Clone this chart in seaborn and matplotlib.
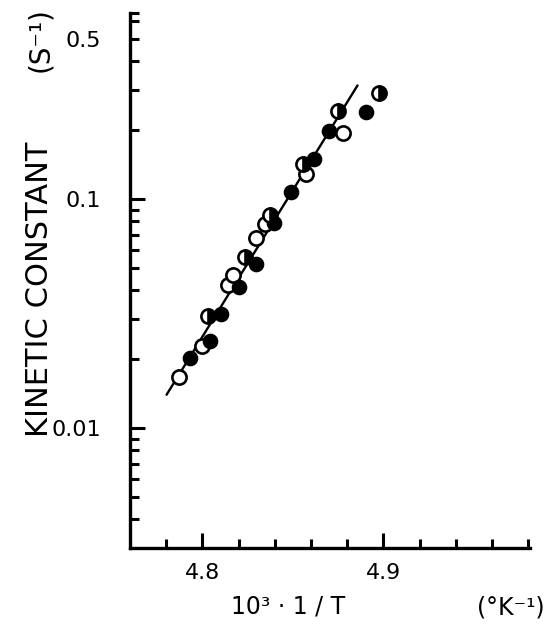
import matplotlib
matplotlib.use("Agg")
import matplotlib.pyplot as plt
import seaborn as sns
import pandas as pd

# ---- data ----
open_x = [4.7871, 4.8000, 4.8141, 4.8169, 4.8298, 4.8347, 4.8573, 4.8778]
open_k = [0.0168, 0.0229, 0.0422, 0.0467, 0.0675, 0.0778, 0.1289, 0.1937]

filled_x = [4.7930, 4.8041, 4.8101, 4.8203, 4.8298, 4.8398, 4.8490, 4.8619, 4.8697, 4.8903]
filled_k = [0.0202, 0.0240, 0.0315, 0.0414, 0.0522, 0.0785, 0.1079, 0.1495, 0.1981, 0.2404]

half_x = [4.8031, 4.8233, 4.8376, 4.8555, 4.8750, 4.8977]
half_k = [0.0309, 0.0559, 0.0854, 0.1419, 0.2417, 0.2901]

fit_x = [4.7802, 4.8857]
fit_k = [0.0140, 0.3138]

x_major = [4.8, 4.9]
x_major_labels = ["4.8", "4.9"]
x_minor = [4.78, 4.82, 4.84, 4.86, 4.88, 4.92, 4.94, 4.96, 4.98]

y_major = [0.01, 0.1]
y_major_labels = ["0.01", "0.1"]
y_minor = [0.004, 0.005, 0.006, 0.007, 0.008, 0.009,
           0.02, 0.03, 0.04, 0.05, 0.06, 0.07, 0.08, 0.09,
           0.2, 0.3, 0.4, 0.5, 0.6, 0.65]
y_minor_labels = ["0.5" if v == 0.5 else "" for v in y_minor]

# ---- figure ----
sns.set_style("ticks")
plt.rcParams["font.family"] = ["DejaVu Sans"]
plt.rcParams["text.color"] = "black"
plt.rcParams["axes.labelcolor"] = "black"
plt.rcParams["xtick.color"] = "black"
plt.rcParams["ytick.color"] = "black"
plt.rcParams["xtick.labelcolor"] = "black"
plt.rcParams["ytick.labelcolor"] = "black"

fig = plt.figure(figsize=(5.58, 6.35), dpi=100)
ax = fig.add_axes([130 / 558, 1 - 548 / 635, 400 / 558, 535 / 635])

df_open = pd.DataFrame({"x": open_x, "k": open_k})
df_filled = pd.DataFrame({"x": filled_x, "k": filled_k})
df_half = pd.DataFrame({"x": half_x, "k": half_k})
df_fit = pd.DataFrame({"x": fit_x, "k": fit_k})

sns.lineplot(data=df_fit, x="x", y="k", color="black", lw=1.7, ax=ax, zorder=1)
sns.scatterplot(data=df_open, x="x", y="k", marker="o", s=105, facecolor="white",
                edgecolor="black", linewidth=1.9, ax=ax, zorder=3)
sns.scatterplot(data=df_filled, x="x", y="k", marker="o", s=105, color="black",
                edgecolor="black", linewidth=1.0, ax=ax, zorder=3)
sns.lineplot(data=df_half, x="x", y="k", marker="o", linestyle="none",
             markersize=10.2, fillstyle="right", markerfacecolor="black",
             markerfacecoloralt="white", markeredgecolor="black",
             markeredgewidth=1.9, color="black", errorbar=None, sort=False,
             ax=ax, zorder=4)

ax.set_yscale("log")
ax.set_xlim(4.76, 4.981)
ax.set_ylim(0.003, 0.65)

ax.set_xticks(x_major, labels=x_major_labels)
ax.set_xticks(x_minor, minor=True)
ax.set_yticks(y_major, labels=y_major_labels)
ax.set_yticks(y_minor, labels=y_minor_labels, minor=True)

ax.tick_params(axis="both", which="major", direction="in", length=11, width=2.2,
               labelsize=16, color="black", labelcolor="black")
ax.tick_params(axis="both", which="minor", direction="in", length=6.5, width=2.2,
               labelsize=16, color="black", labelcolor="black")
ax.tick_params(axis="x", which="both", pad=11)
ax.tick_params(axis="y", which="both", pad=21)

for side in ["top", "right"]:
    ax.spines[side].set_visible(False)
for side in ["left", "bottom"]:
    ax.spines[side].set_linewidth(2.4)
    ax.spines[side].set_color("black")

ax.set_xlabel("")
ax.set_ylabel("")

fig.text(40 / 558, 1 - 289 / 635, "KINETIC CONSTANT", rotation=90, ha="center",
         va="center", fontsize=22, color="black")
fig.text(40 / 558, 1 - 40 / 635, "(S⁻¹)", rotation=90, ha="center",
         va="center", fontsize=20, color="black")
fig.text(288 / 558, 1 - 607 / 635, "10³ · 1 / T", ha="center", va="center",
         fontsize=17, color="black")
fig.text(511 / 558, 1 - 607 / 635, "(°K⁻¹)", ha="center", va="center",
         fontsize=17, color="black")

fig.savefig("out.png", dpi=100, facecolor="white")
